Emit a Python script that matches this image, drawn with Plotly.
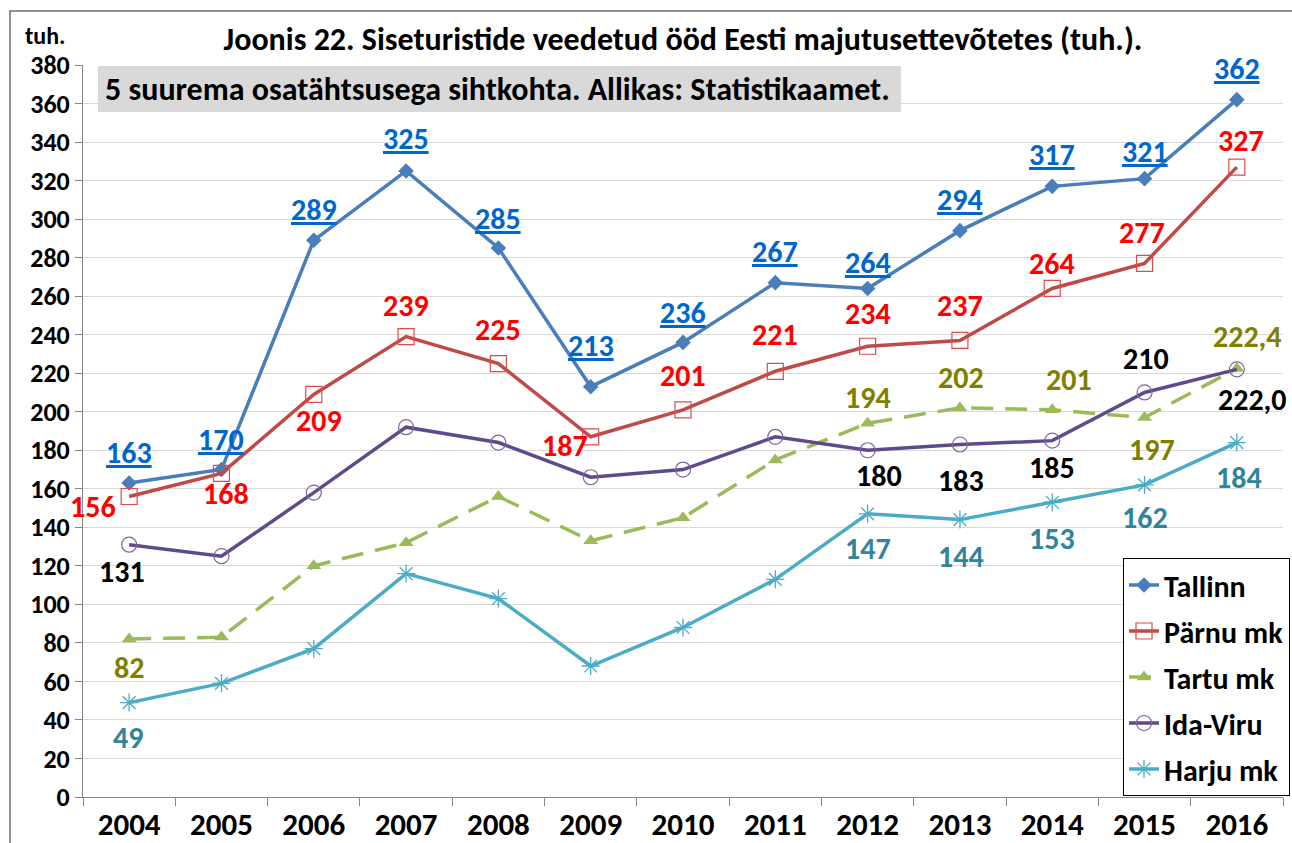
import plotly.graph_objects as go

years = ["2004", "2005", "2006", "2007", "2008", "2009", "2010", "2011", "2012", "2013", "2014", "2015", "2016"]

tallinn = [163, 170, 289, 325, 285, 213, 236, 267, 264, 294, 317, 321, 362]
parnu = [156, 168, 209, 239, 225, 187, 201, 221, 234, 237, 264, 277, 327]
tartu = [82, 83, 120, 132, 156, 133, 145, 175, 194, 202, 201, 197, 222.4]
idaviru = [131, 125, 158, 192, 184, 166, 170, 187, 180, 183, 185, 210, 222.0]
harju = [49, 59, 77, 116, 103, 68, 88, 113, 147, 144, 153, 162, 184]

series_names = ["Tallinn", "Pärnu mk", "Tartu mk", "Ida-Viru", "Harju mk"]

FONT = "Carlito, Lato, 'Open Sans', sans-serif"

# label offsets in px (dx, dy), None = no label
off_tallinn = [(0, 31), (0, 30), (0, 31), (0, 32), (0, 30), (0, 41), (0, 30), (0, 31), (0, 26), (0, 31), (0, 32), (0, 27), (0, 31)]
off_parnu = [(-36, -10), (5, -20), (5, -26), (0, 31), (0, 34), (-26, -9), (0, 34), (0, 37), (0, 33), (0, 35), (0, 25), (-3, 31), (4, 27)]
off_tartu = [(0, -28), None, None, None, None, None, None, None, (0, 26), (1, 30), (17, 30), (7, -32), (11, 32)]
off_ida = [(-7, -27), None, None, None, None, None, None, None, (11, -25), (1, -36), (0, -27), (1, 34), (16, -30)]
off_harju = [(-1, -35), None, None, None, None, None, None, None, (0, -35), (1, -37), (0, -36), (0, -33), (2, -35)]

styles = [
    dict(vals=tallinn, name=series_names[0], line=dict(color="#4A7EBB", width=3.5),
         marker=dict(symbol="diamond", size=12, color="#4A7EBB"), lab="#0066CC", off=off_tallinn, u=True, dec=False),
    dict(vals=parnu, name=series_names[1], line=dict(color="#BE4B48", width=3.5),
         marker=dict(symbol="square-open", size=16, color="#E04A47", line=dict(width=1.2)), lab="#FF0000", off=off_parnu, u=False, dec=False),
    dict(vals=tartu, name=series_names[2], line=dict(color="#9BBB59", width=3.5, dash="22px,12px"),
         marker=dict(symbol="triangle-up", size=13, color="#9BBB59"), lab="#808000", off=off_tartu, u=False, dec=True),
    dict(vals=idaviru, name=series_names[3], line=dict(color="#5F4B8B", width=3.5),
         marker=dict(symbol="circle-open", size=15, color="#8064A2", line=dict(width=1.2)), lab="#000000", off=off_ida, u=False, dec=True),
    dict(vals=harju, name=series_names[4], line=dict(color="#4BACC6", width=3.5),
         marker=dict(symbol="asterisk-open", size=15, color="#4BACC6", line=dict(width=1.3, color="#4BACC6")), lab="#31849B", off=off_harju, u=False, dec=False),
]

fig = go.Figure()
annotations = []
for s in styles:
    fig.add_trace(go.Scatter(x=years, y=s["vals"], name=f"<b>{s['name']}</b>", legendgroup=s["name"],
                             mode="lines+markers", line=s["line"], marker=s["marker"]))
    n = len(s["vals"])
    for i, (v, o) in enumerate(zip(s["vals"], s["off"])):
        if o is None:
            continue
        if s["dec"] and i == n - 1:
            txt = f"{v:.1f}".replace(".", ",")
        else:
            txt = f"{v:.0f}"
        if s["u"]:
            txt = f"<u>{txt}</u>"
        annotations.append(dict(x=i, y=v, xref="x", yref="y", text=f"<b>{txt}</b>", showarrow=False,
                                xshift=o[0], yshift=o[1], xanchor="center", yanchor="middle",
                                font=dict(family=FONT, size=30, color=s["lab"])))

PW, PH = 1200, 732
def px(x):
    return (x - 83) / PW
def py(y):
    return (797 - y) / PH

annotations.append(dict(x=px(45), y=py(36), xref="paper", yref="paper", xanchor="center", yanchor="middle",
                        text="<b>tuh.</b>", showarrow=False, font=dict(family=FONT, size=24, color="black")))
annotations.append(dict(x=px(103), y=py(89), xref="paper", yref="paper", xanchor="left", yanchor="middle",
                        text="<b>5 suurema osatähtsusega sihtkohta. Allikas: Statistikaamet.</b>", showarrow=False,
                        font=dict(family=FONT, size=32, color="black")))

shapes = [
    dict(type="rect", xref="paper", yref="paper", x0=px(98), x1=px(901), y0=py(112), y1=py(66),
         fillcolor="#D9D9D9", line=dict(width=0), layer="above"),
    dict(type="rect", xref="paper", yref="paper", x0=px(10), x1=px(1300), y0=py(850), y1=py(11),
         fillcolor="rgba(0,0,0,0)", line=dict(width=1.5, color="#6E6E6E")),
]

fig.update_layout(
    width=1292, height=843,
    margin=dict(l=83, r=9, t=65, b=46, autoexpand=False),
    paper_bgcolor="white", plot_bgcolor="white",
    title=dict(text="<b>Joonis 22. Siseturistide veedetud ööd Eesti majutusettevõtetes (tuh.).</b>",
               x=683 / 1292, xanchor="center", y=1 - 39 / 843, yanchor="middle",
               font=dict(family=FONT, size=32, color="black")),
    xaxis=dict(type="category", range=[-0.5, 12.5], showgrid=False, showline=True, linecolor="#868686", linewidth=1,
               ticks="outside", tickson="boundaries", ticklen=8, tickcolor="#868686", automargin=False,
               tickfont=dict(family=FONT, size=31, color="black"), tickprefix="<b>", ticksuffix="</b>"),
    yaxis=dict(range=[0, 380], dtick=20, showgrid=True, gridcolor="#D9D9D9", gridwidth=1, showline=True,
               linecolor="#868686", linewidth=1, ticks="outside", ticklen=7, tickcolor="#868686", zeroline=False,
               automargin=False,
               tickfont=dict(family=FONT, size=26, color="black"), tickprefix="<b>", ticksuffix="</b>"),
    legend=dict(x=px(1290), xanchor="right", y=py(558), yanchor="top", tracegroupgap=4,
                bgcolor="white", bordercolor="black", borderwidth=1,
                font=dict(family=FONT, size=30, color="black")),
    annotations=annotations,
    shapes=shapes,
)

fig.write_html("out.html", config={"displayModeBar": False},
               post_script="document.body.style.margin='0';document.body.style.overflow='hidden';")
